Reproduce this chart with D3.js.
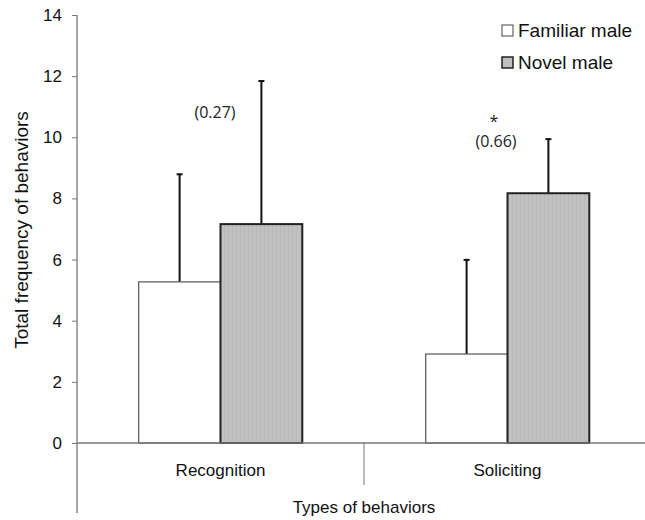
<!DOCTYPE html>
<html><head><meta charset="utf-8">
<script src="https://cdn.jsdelivr.net/npm/d3@7"></script>
<style>body{margin:0;background:#fff}svg{display:block}</style>
</head><body>
<script>
const categories = ["Recognition", "Soliciting"];
const seriesNames = ["Familiar male", "Novel male"];
const familiarMeans = [5.27, 2.91];
const familiarErr = [3.52, 3.08];
const novelMeans = [7.16, 8.17];
const novelErr = [4.68, 1.77];
const pLabels = ["(0.27)", "(0.66)"];
const sigMarks = ["", "*"];
const yTicks = [0, 2, 4, 6, 8, 10, 12, 14];

const W = 645, H = 520;
const svg = d3.select("body").append("svg").attr("width", W).attr("height", H);
const defs = svg.append("defs");
const pat = defs.append("pattern").attr("id", "stripe").attr("patternUnits", "userSpaceOnUse")
  .attr("width", 4).attr("height", 4);
pat.append("rect").attr("width", 4).attr("height", 4).attr("fill", "#c1c1c1");
pat.append("rect").attr("x", 0).attr("width", 1).attr("height", 4).attr("fill", "#b9b9b9");

const axisX = 77, y0px = 443, yTop = 15;
const y = d3.scaleLinear().domain([0, 14]).range([y0px, yTop]);

const xCat = d3.scaleBand().domain(categories).range([axisX, 651]);
const xGroup = d3.scaleBand().domain(categories).range([axisX, 651]).paddingInner(0.43).paddingOuter(0.215);
const xSub = d3.scaleBand().domain(seriesNames).range([0, xGroup.bandwidth()]);

const fills = ["#ffffff", "url(#stripe)"];
const strokes = ["#555", "#222"];
const strokeW = [1.2, 2];
const FONT = "Liberation Sans, Arial, sans-serif";

const data = [];
categories.forEach((c, i) => {
  data.push({cat: c, s: seriesNames[0], v: familiarMeans[i], e: familiarErr[i], k: 0});
  data.push({cat: c, s: seriesNames[1], v: novelMeans[i], e: novelErr[i], k: 1});
});

// error bars
const eb = svg.append("g");
data.forEach(d => {
  const cx = xGroup(d.cat) + xSub(d.s) + xSub.bandwidth() / 2;
  eb.append("line").attr("x1", cx).attr("x2", cx).attr("y1", y(d.v)).attr("y2", y(d.v + d.e))
    .attr("stroke", "#111").attr("stroke-width", 2);
  eb.append("line").attr("x1", cx - 3).attr("x2", cx + 3).attr("y1", y(d.v + d.e)).attr("y2", y(d.v + d.e))
    .attr("stroke", "#111").attr("stroke-width", 2);
});

// bars
svg.append("g").selectAll("rect").data(data).join("rect")
  .attr("x", d => xGroup(d.cat) + xSub(d.s))
  .attr("y", d => y(d.v))
  .attr("width", xSub.bandwidth())
  .attr("height", d => y(0) - y(d.v))
  .attr("fill", d => fills[d.k])
  .attr("stroke", d => strokes[d.k])
  .attr("stroke-width", d => strokeW[d.k]);

// y axis
const yAxis = d3.axisLeft(y).tickValues(yTicks).tickSize(5).tickPadding(10).tickSizeOuter(0);
const gy = svg.append("g").attr("transform", `translate(${axisX},0)`).call(yAxis);
gy.select(".domain").remove();
gy.selectAll(".tick line").attr("stroke", "#777");
gy.selectAll(".tick text").attr("font-family", FONT).attr("font-size", 17).attr("fill", "#111");
svg.append("line").attr("x1", axisX).attr("x2", axisX).attr("y1", yTop).attr("y2", 513).attr("stroke", "#777").attr("stroke-width", 1.3);

// x baseline
svg.append("line").attr("x1", axisX).attr("x2", W).attr("y1", y(0)).attr("y2", y(0)).attr("stroke", "#777").attr("stroke-width", 1.3);
// category divider
categories.slice(1).forEach(c => {
  svg.append("line").attr("x1", xCat(c)).attr("x2", xCat(c)).attr("y1", y(0)).attr("y2", 485)
    .attr("stroke", "#777").attr("stroke-width", 1);
});
// category labels
svg.append("g").selectAll("text").data(categories).join("text")
  .attr("x", d => xCat(d) + xCat.bandwidth() / 2).attr("y", 476)
  .attr("text-anchor", "middle").attr("font-family", FONT)
  .attr("font-size", 17).attr("fill", "#111").text(d => d);

// axis titles
svg.append("text").attr("x", xCat(categories[1])).attr("y", 513).attr("text-anchor", "middle")
  .attr("font-family", FONT).attr("font-size", 17).attr("fill", "#111")
  .text("Types of behaviors");
svg.append("text").attr("transform", `translate(28,230) rotate(-90)`).attr("text-anchor", "middle")
  .attr("font-family", FONT).attr("font-size", 19).attr("fill", "#111")
  .text("Total frequency of behaviors");

// annotations
const annX = [215, 496];
const annY = [118, 147];
categories.forEach((c, i) => {
  svg.append("text").attr("x", annX[i]).attr("y", annY[i]).attr("text-anchor", "middle")
    .attr("font-family", "Open Sans, sans-serif").attr("font-size", 16).attr("fill", "#222").text(pLabels[i]);
  if (sigMarks[i]) {
    svg.append("text").attr("x", annX[i] - 2).attr("y", annY[i] - 20).attr("text-anchor", "middle")
      .attr("font-family", "Open Sans, sans-serif").attr("font-size", 16).attr("fill", "#222").text(sigMarks[i]);
  }
});

// legend
const leg = svg.append("g").attr("transform", "translate(502,25)");
seriesNames.forEach((s, i) => {
  const g = leg.append("g").attr("transform", `translate(0,${i * 32})`);
  g.append("rect").attr("width", 11).attr("height", 11).attr("fill", i ? "#bfbfbf" : "#fff")
    .attr("stroke", i ? "#222" : "#444").attr("stroke-width", i ? 1.5 : 1);
  g.append("text").attr("x", 16).attr("y", 12).attr("font-family", FONT)
    .attr("font-size", 19).attr("fill", "#111").text(s);
});
</script>
</body></html>
